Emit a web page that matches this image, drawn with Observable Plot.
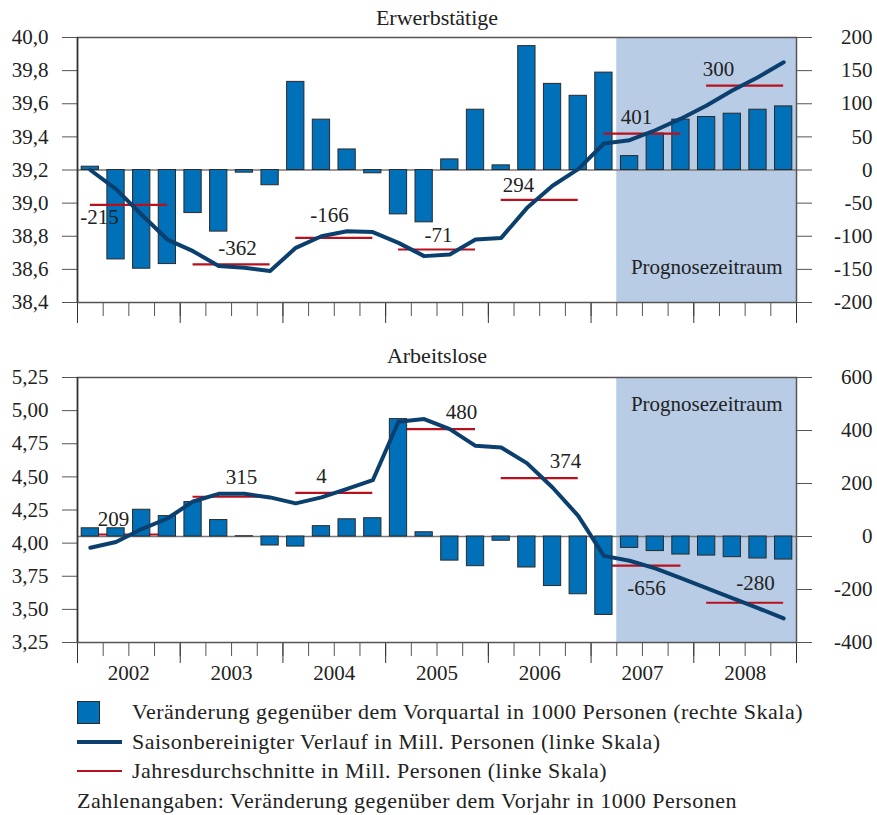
<!DOCTYPE html>
<html><head><meta charset="utf-8">
<script src="https://cdn.jsdelivr.net/npm/d3@7"></script>
<script src="https://cdn.jsdelivr.net/npm/@observablehq/plot@0.6"></script>
<style>
body{margin:0;background:#fff;font-family:"Liberation Serif","Times New Roman","DejaVu Serif",serif;color:#222;}
#wrap{width:877px;}
#wrap svg{display:block;}
#legend{position:relative;height:125px;font-size:22px;letter-spacing:0.5px;}
.lg{position:absolute;left:132px;line-height:1;transform:translateY(-50%);white-space:nowrap;}
.sw{position:absolute;}
</style></head>
<body><div id="wrap"><div id="top"></div><div id="bottom"></div><div id="legend"></div></div>
<script>
// ---------- data ----------
const years = [2002, 2003, 2004, 2005, 2006, 2007, 2008];
const quarterNames = ["Q1", "Q2", "Q3", "Q4"];
const forecastStart = "2007 Q2";

// Erwerbstätige
const empChange = [5, -135, -149, -142, -65, -93, -4, -23, 133, 76, 31, -5, -67, -79,
                   16, 91, 7, 187, 130, 112, 147, 21, 55, 76, 80, 85, 91, 96];
const empLevel = [39.20, 39.085, 38.93, 38.78, 38.71, 38.62, 38.61, 38.59, 38.73, 38.80, 38.83, 38.825, 38.76, 38.68,
                  38.69, 38.78, 38.79, 38.97, 39.105, 39.205, 39.36, 39.38, 39.44, 39.51, 39.59, 39.68, 39.76, 39.85];
const empAvg = [38.99, 38.63, 38.79, 38.72, 39.02, 39.42, 39.71];
const empYoY = [-215, -362, -166, -71, 294, 401, 300];
const empLabelX = [0.86, 6.23, 9.81, 14.06, 17.17, 21.77, 24.96];
const empLabelY = [38.913, 38.726, 38.925, 38.805, 39.11, 39.52, 39.81];
const empLeftTicks = [38.4, 38.6, 38.8, 39.0, 39.2, 39.4, 39.6, 39.8, 40.0];
const empRightTicks = [-200, -150, -100, -50, 0, 50, 100, 150, 200];

// Arbeitslose
const unempChange = [31, 31, 101, 77, 130, 62, 1, -34, -38, 39, 65, 69, 443, 16,
                     -91, -112, -16, -117, -187, -218, -296, -43, -55, -68, -72, -78, -83, -87];
const unempLevel = [3.965, 4.008, 4.106, 4.186, 4.314, 4.372, 4.372, 4.345, 4.30, 4.345, 4.41, 4.475, 4.916, 4.936,
                    4.86, 4.734, 4.722, 4.604, 4.42, 4.206, 3.904, 3.867, 3.809, 3.736, 3.66, 3.585, 3.51, 3.432];
const unempAvg = [4.065, 4.35, 4.38, 4.86, 4.49, 3.83, 3.55];
const unempYoY = [209, 315, 4, 480, 374, -656, -280];
const unempLabelX = [1.40, 6.39, 9.50, 14.95, 19.0, 22.16, 26.40];
const unempLabelY = [4.178, 4.495, 4.503, 4.986, 4.616, 3.658, 3.695];
const unempLeftTicks = [3.25, 3.50, 3.75, 4.00, 4.25, 4.50, 4.75, 5.00, 5.25];
const unempRightTicks = [-400, -200, 0, 200, 400, 600];

const titles = ["Erwerbstätige", "Arbeitslose"];
const forecastLabel = "Prognosezeitraum";
const legendLabels = [
  "Veränderung gegenüber dem Vorquartal in 1000 Personen (rechte Skala)",
  "Saisonbereinigter Verlauf in Mill. Personen (linke Skala)",
  "Jahresdurchschnitte in Mill. Personen (linke Skala)",
  "Zahlenangaben: Veränderung gegenüber dem Vorjahr in 1000 Personen"
];

// ---------- styles ----------
const BAR = "#0070b8", BARSTROKE = "#2a2a2a", LINE = "#0b3f6e", RED = "#b8101c", SHADE = "#b8cce6", AXIS = "#555";
const FONT = "'Liberation Serif', 'Times New Roman', 'DejaVu Serif', serif";

const quarters = years.flatMap(y => quarterNames.map(q => `${y} ${q}`));
const nQ = quarters.length;
const fIdx = quarters.indexOf(forecastStart);

function panel({title, change, level, avg, yoy, labX, labY, leftTicks, rightTicks, leftDom, rightDom, leftFmt,
                height, marginTop, marginBottom, redOnTop, progAnchor, progDy, titleDy, yearLabels}) {
  const toLeft = v => leftDom[0] + (v - rightDom[0]) / (rightDom[1] - rightDom[0]) * (leftDom[1] - leftDom[0]);
  const fromLeft = y => rightDom[0] + (y - leftDom[0]) / (leftDom[1] - leftDom[0]) * (rightDom[1] - rightDom[0]);
  const base = toLeft(0);
  const rows = quarters.map((q, i) => ({q, i, change: change[i], level: level[i]}));
  const yrs = years.map((y, k) => ({y, k, avg: avg[k], yoy: yoy[k], lx: labX[k], ly: labY[k]}));
  const redMark = Plot.ruleY(yrs, {x1: d => 4 * d.k + 0.5, x2: d => 4 * d.k + 3.5, y: "avg", stroke: RED, strokeWidth: 2.2});
  const barMark = Plot.rect(rows, {x1: "i", x2: d => d.i + 1, y1: base, y2: d => toLeft(d.change),
                                  fill: BAR, stroke: BARSTROKE, strokeWidth: 1, insetLeft: 4.2, insetRight: 4.2});
  const marks = [
    Plot.rect([forecastLabel], {x1: fIdx, x2: nQ, y1: leftDom[0], y2: leftDom[1], fill: SHADE}),
    Plot.ruleY([base], {stroke: "#777", strokeWidth: 1.5}),
    ...(redOnTop ? [barMark, redMark] : [redMark, barMark]),
    Plot.line(rows, {x: d => d.i + 0.5, y: "level", stroke: LINE, strokeWidth: 4, strokeLinejoin: "round"}),
    Plot.text(yrs, {x: "lx", y: "ly", text: d => String(d.yoy), fill: "#222", fontSize: 21, lineAnchor: "middle"}),
    Plot.text([forecastLabel], {frameAnchor: progAnchor, dx: -14, dy: progDy, textAnchor: "end", lineAnchor: "middle", fontSize: 21, fill: "#222"}),
    Plot.text([title], {frameAnchor: "top", dy: titleDy, lineAnchor: "middle", fontSize: 22, fill: "#222"}),
    Plot.axisY(leftTicks, {anchor: "left", tickSize: 15, tickPadding: 14, stroke: AXIS, color: "#222", tickFormat: leftFmt, fontSize: 21}),
    Plot.axisY(rightTicks.map(toLeft), {anchor: "right", tickSize: 15, tickPadding: 61, textAnchor: "end", stroke: AXIS,
                                         tickFormat: y => String(Math.round(fromLeft(y))), fontSize: 21}),
    Plot.axisX(d3.range(nQ + 1), {anchor: "bottom", tickSize: 14, tickFormat: () => "", stroke: AXIS}),
    Plot.axisX(d3.range(0, nQ + 1, 4), {anchor: "bottom", tickSize: 21, tickFormat: () => "", stroke: "#333"}),
    Plot.frame({stroke: AXIS, strokeWidth: 1.5}),
    Plot.ruleX([0], {stroke: "#333", strokeWidth: 1.5})
  ];
  if (yearLabels) {
    marks.push(Plot.axisX(years.map((y, k) => 4 * k + 2), {anchor: "bottom", tickSize: 0, tickPadding: 23,
      tickFormat: x => String(years[(x - 2) / 4]), fontSize: 21}));
  }
  return Plot.plot({
    width: 877, height, marginLeft: 77, marginRight: 81, marginTop, marginBottom,
    x: {domain: [0, nQ], label: null},
    y: {domain: leftDom, label: null},
    style: {fontFamily: FONT, fontSize: "21px", color: "#222", background: "transparent", overflow: "visible"},
    marks
  });
}

const comma = n => d => d.toFixed(n).replace(".", ",");

document.getElementById("top").append(panel({
  title: titles[0], change: empChange, level: empLevel, avg: empAvg, yoy: empYoY, labX: empLabelX, labY: empLabelY,
  leftTicks: empLeftTicks, rightTicks: empRightTicks, leftDom: [38.4, 40.0], rightDom: [-200, 200], leftFmt: comma(1),
  height: 330, marginTop: 37, marginBottom: 28, redOnTop: true, progAnchor: "bottom-right", progDy: -35, titleDy: -20,
  yearLabels: false
}));
document.getElementById("bottom").append(panel({
  title: titles[1], change: unempChange, level: unempLevel, avg: unempAvg, yoy: unempYoY, labX: unempLabelX, labY: unempLabelY,
  leftTicks: unempLeftTicks, rightTicks: unempRightTicks, leftDom: [3.25, 5.25], rightDom: [-400, 600], leftFmt: comma(2),
  height: 360, marginTop: 47, marginBottom: 48, redOnTop: false, progAnchor: "top-right", progDy: 27, titleDy: -22,
  yearLabels: true
}));

// ---------- legend ----------
const lg = document.getElementById("legend");
const rowsY = [22, 52, 81, 111];
lg.innerHTML = `
  <div class="sw" style="left:77px;top:${rowsY[0]-11}px;width:23px;height:23px;background:${BAR};border:1px solid ${BARSTROKE};box-sizing:border-box"></div>
  <div class="sw" style="left:77px;top:${rowsY[1]-2}px;width:45px;height:4px;background:${LINE}"></div>
  <div class="sw" style="left:77px;top:${rowsY[2]-1}px;width:45px;height:2px;background:${RED}"></div>
  <div class="lg" style="top:${rowsY[0]}px">${legendLabels[0]}</div>
  <div class="lg" style="top:${rowsY[1]}px">${legendLabels[1]}</div>
  <div class="lg" style="top:${rowsY[2]}px">${legendLabels[2]}</div>
  <div class="lg" style="top:${rowsY[3]}px;left:77px">${legendLabels[3]}</div>`;
</script>
</body></html>
